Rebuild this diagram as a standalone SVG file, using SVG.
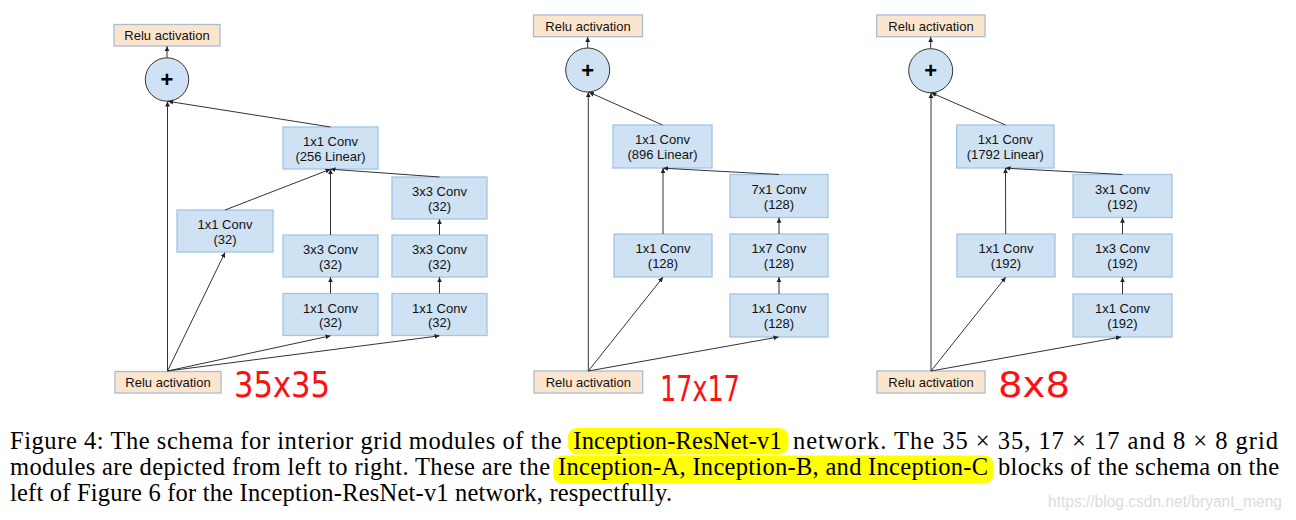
<svg xmlns="http://www.w3.org/2000/svg" width="1296" height="520" viewBox="0 0 1296 520">
<defs>
<marker id="ah" markerWidth="6" markerHeight="6" refX="5" refY="3" orient="auto" markerUnits="userSpaceOnUse">
<path d="M0,0.6 L5,3 L0,5.4 Z" fill="#222"/>
</marker>
<style>
.box{fill:#cfe2f3;stroke:#9fc5e8;stroke-width:1.3}
.relu{fill:#fce5cd;stroke:#a9bcd6;stroke-width:1.3}
.sum{fill:#cfe2f3;stroke:#333;stroke-width:1}
.t{font-family:"Liberation Sans",Arial,sans-serif;font-size:13px;fill:#111;text-anchor:middle}
.plus{font-family:"Liberation Sans",Arial,sans-serif;font-size:22px;font-weight:bold;fill:#000;text-anchor:middle}
.c line{stroke:#333;stroke-width:1;marker-end:url(#ah)}
.cap{font-family:"Liberation Serif","Times New Roman",serif;font-size:24.5px;fill:#000}
.hl{fill:#ffff00}
.red{font-family:"DejaVu Sans",sans-serif;font-size:36px;fill:#ff1010}
</style>
</defs>
<rect width="1296" height="520" fill="#fff"/>

<!-- Left module (35x35) -->
<g id="A_relu_top"><rect class="relu" x="114" y="24.5" width="106" height="21.5"/><text class="t" x="167" y="40">Relu activation</text></g>
<g id="A_sum"><circle class="sum" cx="167" cy="79.5" r="21.7"/><text class="plus" x="167" y="87">+</text></g>
<g id="A_lin"><rect class="box" x="283" y="127" width="95" height="42"/><text class="t" x="330.5" y="146">1x1 Conv</text><text class="t" x="330.5" y="160.5">(256 Linear)</text></g>
<g id="A_b1"><rect class="box" x="177" y="210" width="96" height="42"/><text class="t" x="225" y="229">1x1 Conv</text><text class="t" x="225" y="243.5">(32)</text></g>
<g id="A_b2a"><rect class="box" x="283" y="293.5" width="95" height="42"/><text class="t" x="330.5" y="312.5">1x1 Conv</text><text class="t" x="330.5" y="327">(32)</text></g>
<g id="A_b2b"><rect class="box" x="283" y="235" width="95" height="42"/><text class="t" x="330.5" y="254">3x3 Conv</text><text class="t" x="330.5" y="268.5">(32)</text></g>
<g id="A_b3a"><rect class="box" x="392" y="293.5" width="95" height="42"/><text class="t" x="439.5" y="312.5">1x1 Conv</text><text class="t" x="439.5" y="327">(32)</text></g>
<g id="A_b3b"><rect class="box" x="392" y="235" width="95" height="42"/><text class="t" x="439.5" y="254">3x3 Conv</text><text class="t" x="439.5" y="268.5">(32)</text></g>
<g id="A_b3c"><rect class="box" x="392" y="177" width="95" height="42"/><text class="t" x="439.5" y="196">3x3 Conv</text><text class="t" x="439.5" y="210.5">(32)</text></g>
<g id="A_relu_in"><rect class="relu" x="115" y="371.5" width="106" height="21.5"/><text class="t" x="168" y="387">Relu activation</text></g>

<!-- Middle module (17x17) -->
<g id="B_relu_top"><rect class="relu" x="533.5" y="15" width="109" height="21.7"/><text class="t" x="588" y="30.5">Relu activation</text></g>
<g id="B_sum"><circle class="sum" cx="587.7" cy="70" r="22"/><text class="plus" x="587.7" y="77.5">+</text></g>
<g id="B_lin"><rect class="box" x="613" y="125" width="99" height="43"/><text class="t" x="662.5" y="144">1x1 Conv</text><text class="t" x="662.5" y="159">(896 Linear)</text></g>
<g id="B_b1"><rect class="box" x="614" y="234" width="98" height="43"/><text class="t" x="663" y="253">1x1 Conv</text><text class="t" x="663" y="268">(128)</text></g>
<g id="B_b2a"><rect class="box" x="730" y="294" width="98" height="43"/><text class="t" x="779" y="313">1x1 Conv</text><text class="t" x="779" y="328">(128)</text></g>
<g id="B_b2b"><rect class="box" x="730" y="234" width="98" height="43"/><text class="t" x="779" y="253">1x7 Conv</text><text class="t" x="779" y="268">(128)</text></g>
<g id="B_b2c"><rect class="box" x="730" y="174.5" width="98" height="43"/><text class="t" x="779" y="193.5">7x1 Conv</text><text class="t" x="779" y="208.5">(128)</text></g>
<g id="B_relu_in"><rect class="relu" x="534" y="371" width="108.7" height="22"/><text class="t" x="588.3" y="386.5">Relu activation</text></g>

<!-- Right module (8x8) -->
<g id="C_relu_top"><rect class="relu" x="876.7" y="15" width="108.3" height="21.7"/><text class="t" x="931" y="30.5">Relu activation</text></g>
<g id="C_sum"><circle class="sum" cx="930.7" cy="70.7" r="22"/><text class="plus" x="930.7" y="78.2">+</text></g>
<g id="C_lin"><rect class="box" x="956.7" y="125" width="97.3" height="43"/><text class="t" x="1005.3" y="144">1x1 Conv</text><text class="t" x="1005.3" y="159">(1792 Linear)</text></g>
<g id="C_b1"><rect class="box" x="957" y="234" width="98" height="43"/><text class="t" x="1006" y="253">1x1 Conv</text><text class="t" x="1006" y="268">(192)</text></g>
<g id="C_b2a"><rect class="box" x="1073" y="294" width="99" height="43"/><text class="t" x="1122.5" y="313">1x1 Conv</text><text class="t" x="1122.5" y="328">(192)</text></g>
<g id="C_b2b"><rect class="box" x="1073" y="234" width="99" height="43"/><text class="t" x="1122.5" y="253">1x3 Conv</text><text class="t" x="1122.5" y="268">(192)</text></g>
<g id="C_b2c"><rect class="box" x="1073" y="174.5" width="99" height="43"/><text class="t" x="1122.5" y="193.5">3x1 Conv</text><text class="t" x="1122.5" y="208.5">(192)</text></g>
<g id="C_relu_in"><rect class="relu" x="877" y="371" width="108" height="22"/><text class="t" x="931" y="386.5">Relu activation</text></g>

<g id="connectors" class="c">
<!-- left -->
<line x1="167.5" y1="371" x2="167.5" y2="101.5"/>
<line x1="167.5" y1="371" x2="225" y2="252.5"/>
<line x1="167.5" y1="371" x2="330.5" y2="335.8"/>
<line x1="167.5" y1="371" x2="439.5" y2="335.8"/>
<line x1="225" y1="210" x2="330.5" y2="169.2"/>
<line x1="330.5" y1="235" x2="330.5" y2="169.2"/>
<line x1="439.5" y1="177" x2="330.5" y2="169.2"/>
<line x1="330.5" y1="127" x2="168" y2="101.3"/>
<line x1="330.5" y1="293.5" x2="330.5" y2="277.2"/>
<line x1="439.5" y1="293.5" x2="439.5" y2="277.2"/>
<line x1="439.5" y1="235" x2="439.5" y2="219.2"/>
<line x1="167" y1="57.8" x2="167" y2="46.2"/>
<!-- middle -->
<line x1="588.3" y1="371" x2="588.3" y2="92.2"/>
<line x1="588.3" y1="371" x2="663" y2="277.2"/>
<line x1="588.3" y1="371" x2="778.5" y2="337"/>
<line x1="663" y1="234" x2="663" y2="168.2"/>
<line x1="779" y1="174.5" x2="663" y2="168.2"/>
<line x1="662.5" y1="125" x2="589" y2="92.2"/>
<line x1="779" y1="294" x2="779" y2="277.2"/>
<line x1="779" y1="234" x2="779" y2="217.7"/>
<line x1="587.7" y1="48" x2="587.7" y2="36.9"/>
<!-- right -->
<line x1="931" y1="371" x2="931" y2="92.9"/>
<line x1="931" y1="371" x2="1005.7" y2="277.2"/>
<line x1="931" y1="371" x2="1121" y2="337"/>
<line x1="1005.7" y1="234" x2="1005.5" y2="168.2"/>
<line x1="1122.5" y1="174.5" x2="1005.5" y2="168.2"/>
<line x1="1005.5" y1="125" x2="931.5" y2="92.9"/>
<line x1="1122.5" y1="294" x2="1122.5" y2="277.2"/>
<line x1="1122.5" y1="234" x2="1122.5" y2="217.7"/>
<line x1="930.7" y1="48.7" x2="930.7" y2="36.9"/>
</g>

<!-- handwritten size notes -->
<text class="red" x="234" y="397" textLength="96" lengthAdjust="spacingAndGlyphs">35x35</text>
<text class="red" x="660" y="401" font-size="44" textLength="80" lengthAdjust="spacingAndGlyphs">17x17</text>
<text class="red" x="998" y="397" font-size="40" textLength="72" lengthAdjust="spacingAndGlyphs">8x8</text>

<!-- caption -->
<rect class="hl" x="568" y="428" width="220.5" height="26.5" rx="9"/>
<rect class="hl" x="553" y="455.5" width="440.5" height="28" rx="9"/>
<text class="cap" x="10" y="449" textLength="551.7">Figure 4: The schema for interior grid modules of the</text>
<text class="cap" x="573.3" y="449" textLength="208.4">Inception-ResNet-v1</text>
<text class="cap" x="793" y="449" textLength="485">network. The 35 × 35, 17 × 17 and 8 × 8 grid</text>
<text class="cap" x="10" y="475" textLength="540">modules are depicted from left to right. These are the</text>
<text class="cap" x="558" y="475" textLength="430">Inception-A, Inception-B, and Inception-C</text>
<text class="cap" x="998" y="475" textLength="281">blocks of the schema on the</text>
<text class="cap" x="10" y="501" textLength="662">left of Figure 6 for the Inception-ResNet-v1 network, respectfully.</text>
<text x="1048" y="507" font-family="'Liberation Sans',sans-serif" font-size="16" fill="#dcdcdc" textLength="234" lengthAdjust="spacingAndGlyphs">https://blog.csdn.net/bryant_meng</text>
</svg>
